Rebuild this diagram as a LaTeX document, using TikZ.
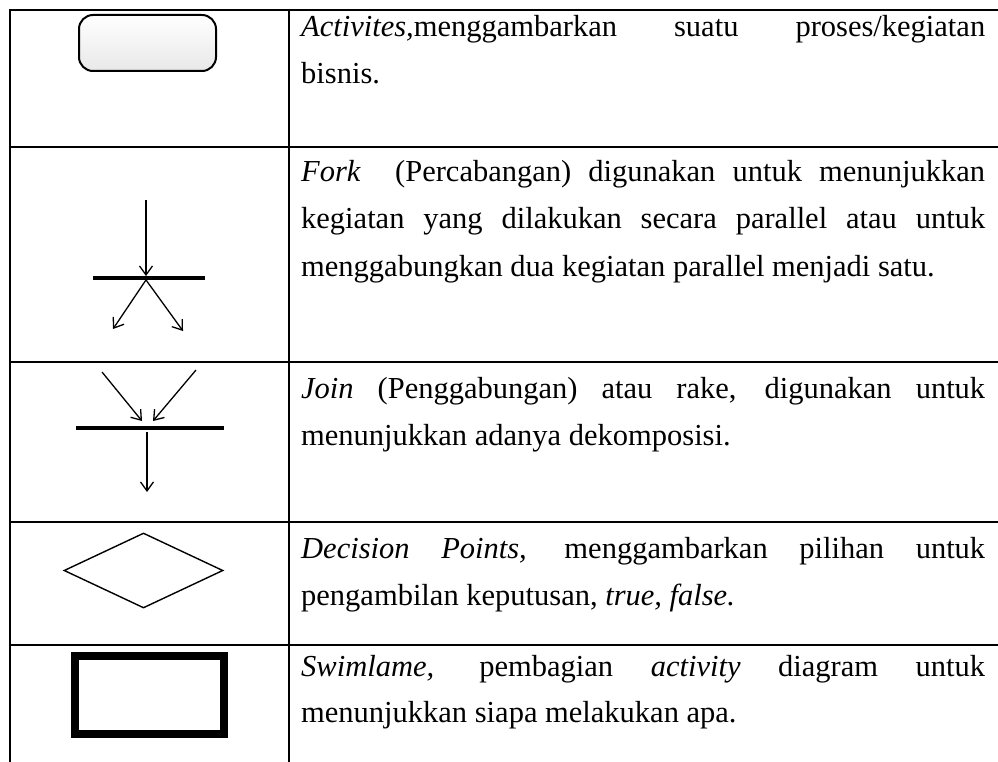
\documentclass[tikz,border=0pt]{standalone}
\usepackage{fontspec}
\setmainfont{Liberation Serif}
\usetikzlibrary{shapes.geometric, arrows.meta, positioning}
\tikzstyle{rule} = [line width=2.2pt]
\tikzstyle{txt} = [anchor=base west, inner sep=0pt, font=\fontsize{30.5}{47}\selectfont]
\tikzstyle{activity} = [rectangle, rounded corners=14pt, minimum width=137pt, minimum height=56pt, draw=black, line width=2pt, top color=white, bottom color=black!9]
\tikzstyle{bar} = [rectangle, fill=black, inner sep=0pt, minimum height=3.5pt]
\tikzstyle{decision} = [diamond, draw=black, line width=1.4pt, inner sep=0pt, minimum width=159pt, minimum height=75pt]
\tikzstyle{swimlane} = [rectangle, draw=black, line width=8pt, minimum width=149pt, minimum height=78pt]
\tikzstyle{arrow} = [line width=1.3pt, -{Straight Barb[length=9pt,width=13pt]}]
\newcommand{\fullline}[1]{\makebox[684pt][s]{#1}}

\begin{document}
\begin{tikzpicture}[x=1pt, y=-1pt]
   \useasboundingbox (0,0) rectangle (998,762);
   \draw [rule] (998,10) -- (10,10) -- (10,762);
   \draw [rule] (289,10) -- (289,762);
   \foreach \y in {147,362,522,645} \draw [rule] (10,\y) -- (998,\y);

   \node (act) [activity] at (147.5,43) {};
   \node (act1) [txt] at (301,37) {\fullline{\textit{Activites,}menggambarkan suatu proses/kegiatan}};
   \node (act2) [txt] at (301,84) {bisnis.};

   \coordinate (forkin) at (146,200);
   \node (forkbar) [bar, minimum width=112pt] at (149,278) {};
   \coordinate (forkl) at (113,329);
   \coordinate (forkr) at (183,331);
   \draw [arrow] (forkin) -- (forkin |- forkbar.north);
   \draw [arrow] (forkin |- forkbar.south) -- (forkl);
   \draw [arrow] (forkin |- forkbar.south) -- (forkr);
   \node (fork1) [txt] at (301,182) {\fullline{\textit{Fork}~ (Percabangan) digunakan untuk menunjukkan}};
   \node (fork2) [txt] at (301,229) {\fullline{kegiatan yang dilakukan secara parallel atau untuk}};
   \node (fork3) [txt] at (301,276) {menggabungkan dua kegiatan parallel menjadi satu.};

   \coordinate (joinl) at (102,372);
   \coordinate (joinr) at (196,370);
   \coordinate (joinlt) at (142,421);
   \coordinate (joinrt) at (153,421);
   \node (joinbar) [bar, minimum width=148pt] at (150,428) {};
   \coordinate (joinout) at (147,492);
   \draw [arrow] (joinl) -- (joinlt);
   \draw [arrow] (joinr) -- (joinrt);
   \draw [arrow, shorten <=2pt] (joinout |- joinbar.south) -- (joinout);
   \node (join1) [txt] at (301,398) {\fullline{\textit{Join} (Penggabungan) atau rake, digunakan untuk}};
   \node (join2) [txt] at (301,445) {menunjukkan adanya dekomposisi.};

   \node (dec) [decision] at (143.5,570.5) {};
   \node (dec1) [txt] at (301,558) {\fullline{\textit{Decision Points,} menggambarkan pilihan untuk}};
   \node (dec2) [txt] at (301,605) {pengambilan keputusan, \textit{true, false.}};

   \node (swim) [swimlane] at (149.5,695) {};
   \node (swim1) [txt] at (301,676) {\fullline{\textit{Swimlame,} pembagian \textit{activity} diagram untuk}};
   \node (swim2) [txt] at (301,722) {menunjukkan siapa melakukan apa.};
\end{tikzpicture}
\end{document}
